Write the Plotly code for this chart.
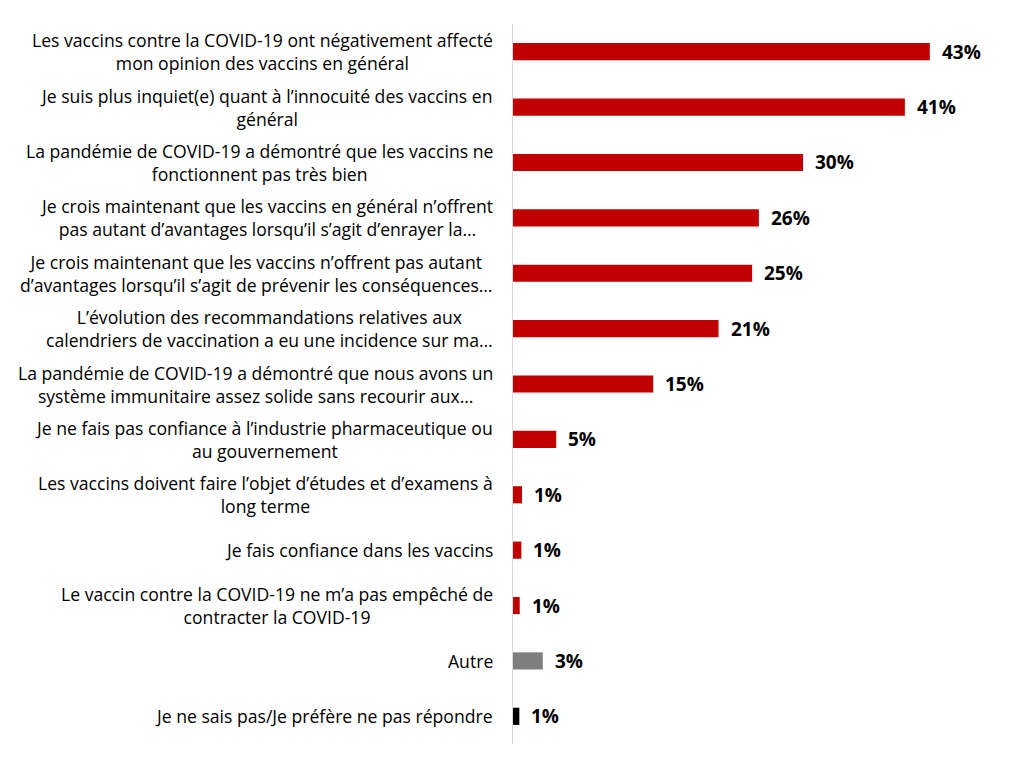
import plotly.graph_objects as go

categories = [
    "Les vaccins contre la COVID-19 ont négativement affecté<br>mon opinion des vaccins en général",
    "Je suis plus inquiet(e) quant à l’innocuité des vaccins en<br>général",
    "La pandémie de COVID-19 a démontré que les vaccins ne<br>fonctionnent pas très bien",
    "Je crois maintenant que les vaccins en général n’offrent<br>pas autant d’avantages lorsqu’il s’agit d’enrayer la…",
    "Je crois maintenant que les vaccins n’offrent pas autant<br>d’avantages lorsqu’il s’agit de prévenir les conséquences…",
    "L’évolution des recommandations relatives aux<br>calendriers de vaccination a eu une incidence sur ma…",
    "La pandémie de COVID-19 a démontré que nous avons un<br>système immunitaire assez solide sans recourir aux…",
    "Je ne fais pas confiance à l’industrie pharmaceutique ou<br>au gouvernement",
    "Les vaccins doivent faire l’objet d’études et d’examens à<br>long terme",
    "Je fais confiance dans les vaccins",
    "Le vaccin contre la COVID-19 ne m’a pas empêché de<br>contracter la COVID-19",
    "Autre",
    "Je ne sais pas/Je préfère ne pas répondre",
]
values = [43.4, 40.8, 30.2, 25.6, 24.9, 21.4, 14.6, 4.5, 0.94, 0.87, 0.7, 3.1, 0.66]
value_labels = ["43%", "41%", "30%", "26%", "25%", "21%", "15%", "5%", "1%", "1%", "1%", "3%", "1%"]
colors = ["#C00000"] * 11 + ["#7F7F7F", "#000000"]

positions = list(range(len(categories)))

fig = go.Figure()
fig.add_trace(go.Bar(
    x=values, y=positions, orientation="h",
    marker=dict(color=colors, line=dict(width=0)),
    width=0.31, hoverinfo="skip",
))

annotations = []
for i, (cat, v, lab) in enumerate(zip(categories, values, value_labels)):
    annotations.append(dict(
        x=0, xref="paper", y=i, yref="y", text=cat, showarrow=False,
        xanchor="right", yanchor="middle", align="center", xshift=-18,
        font=dict(family="Open Sans", size=17.6, color="#000000"),
    ))
    annotations.append(dict(
        x=v, xref="x", y=i, yref="y", text="<b>" + lab + "</b>", showarrow=False,
        xanchor="left", yanchor="middle", xshift=10,
        font=dict(family="Open Sans", size=19, color="#000000"),
    ))

fig.update_layout(
    width=1019, height=768,
    margin=dict(l=513, r=21, t=24, b=24),
    paper_bgcolor="white", plot_bgcolor="white",
    showlegend=False,
    xaxis=dict(range=[0, 50.5], visible=False),
    yaxis=dict(range=[12.5, -0.5], showticklabels=False, showgrid=False,
               zeroline=False, showline=True, linecolor="#D9D9D9", linewidth=1,
               ticks=""),
    annotations=annotations,
)

fig.write_html("out.html")
